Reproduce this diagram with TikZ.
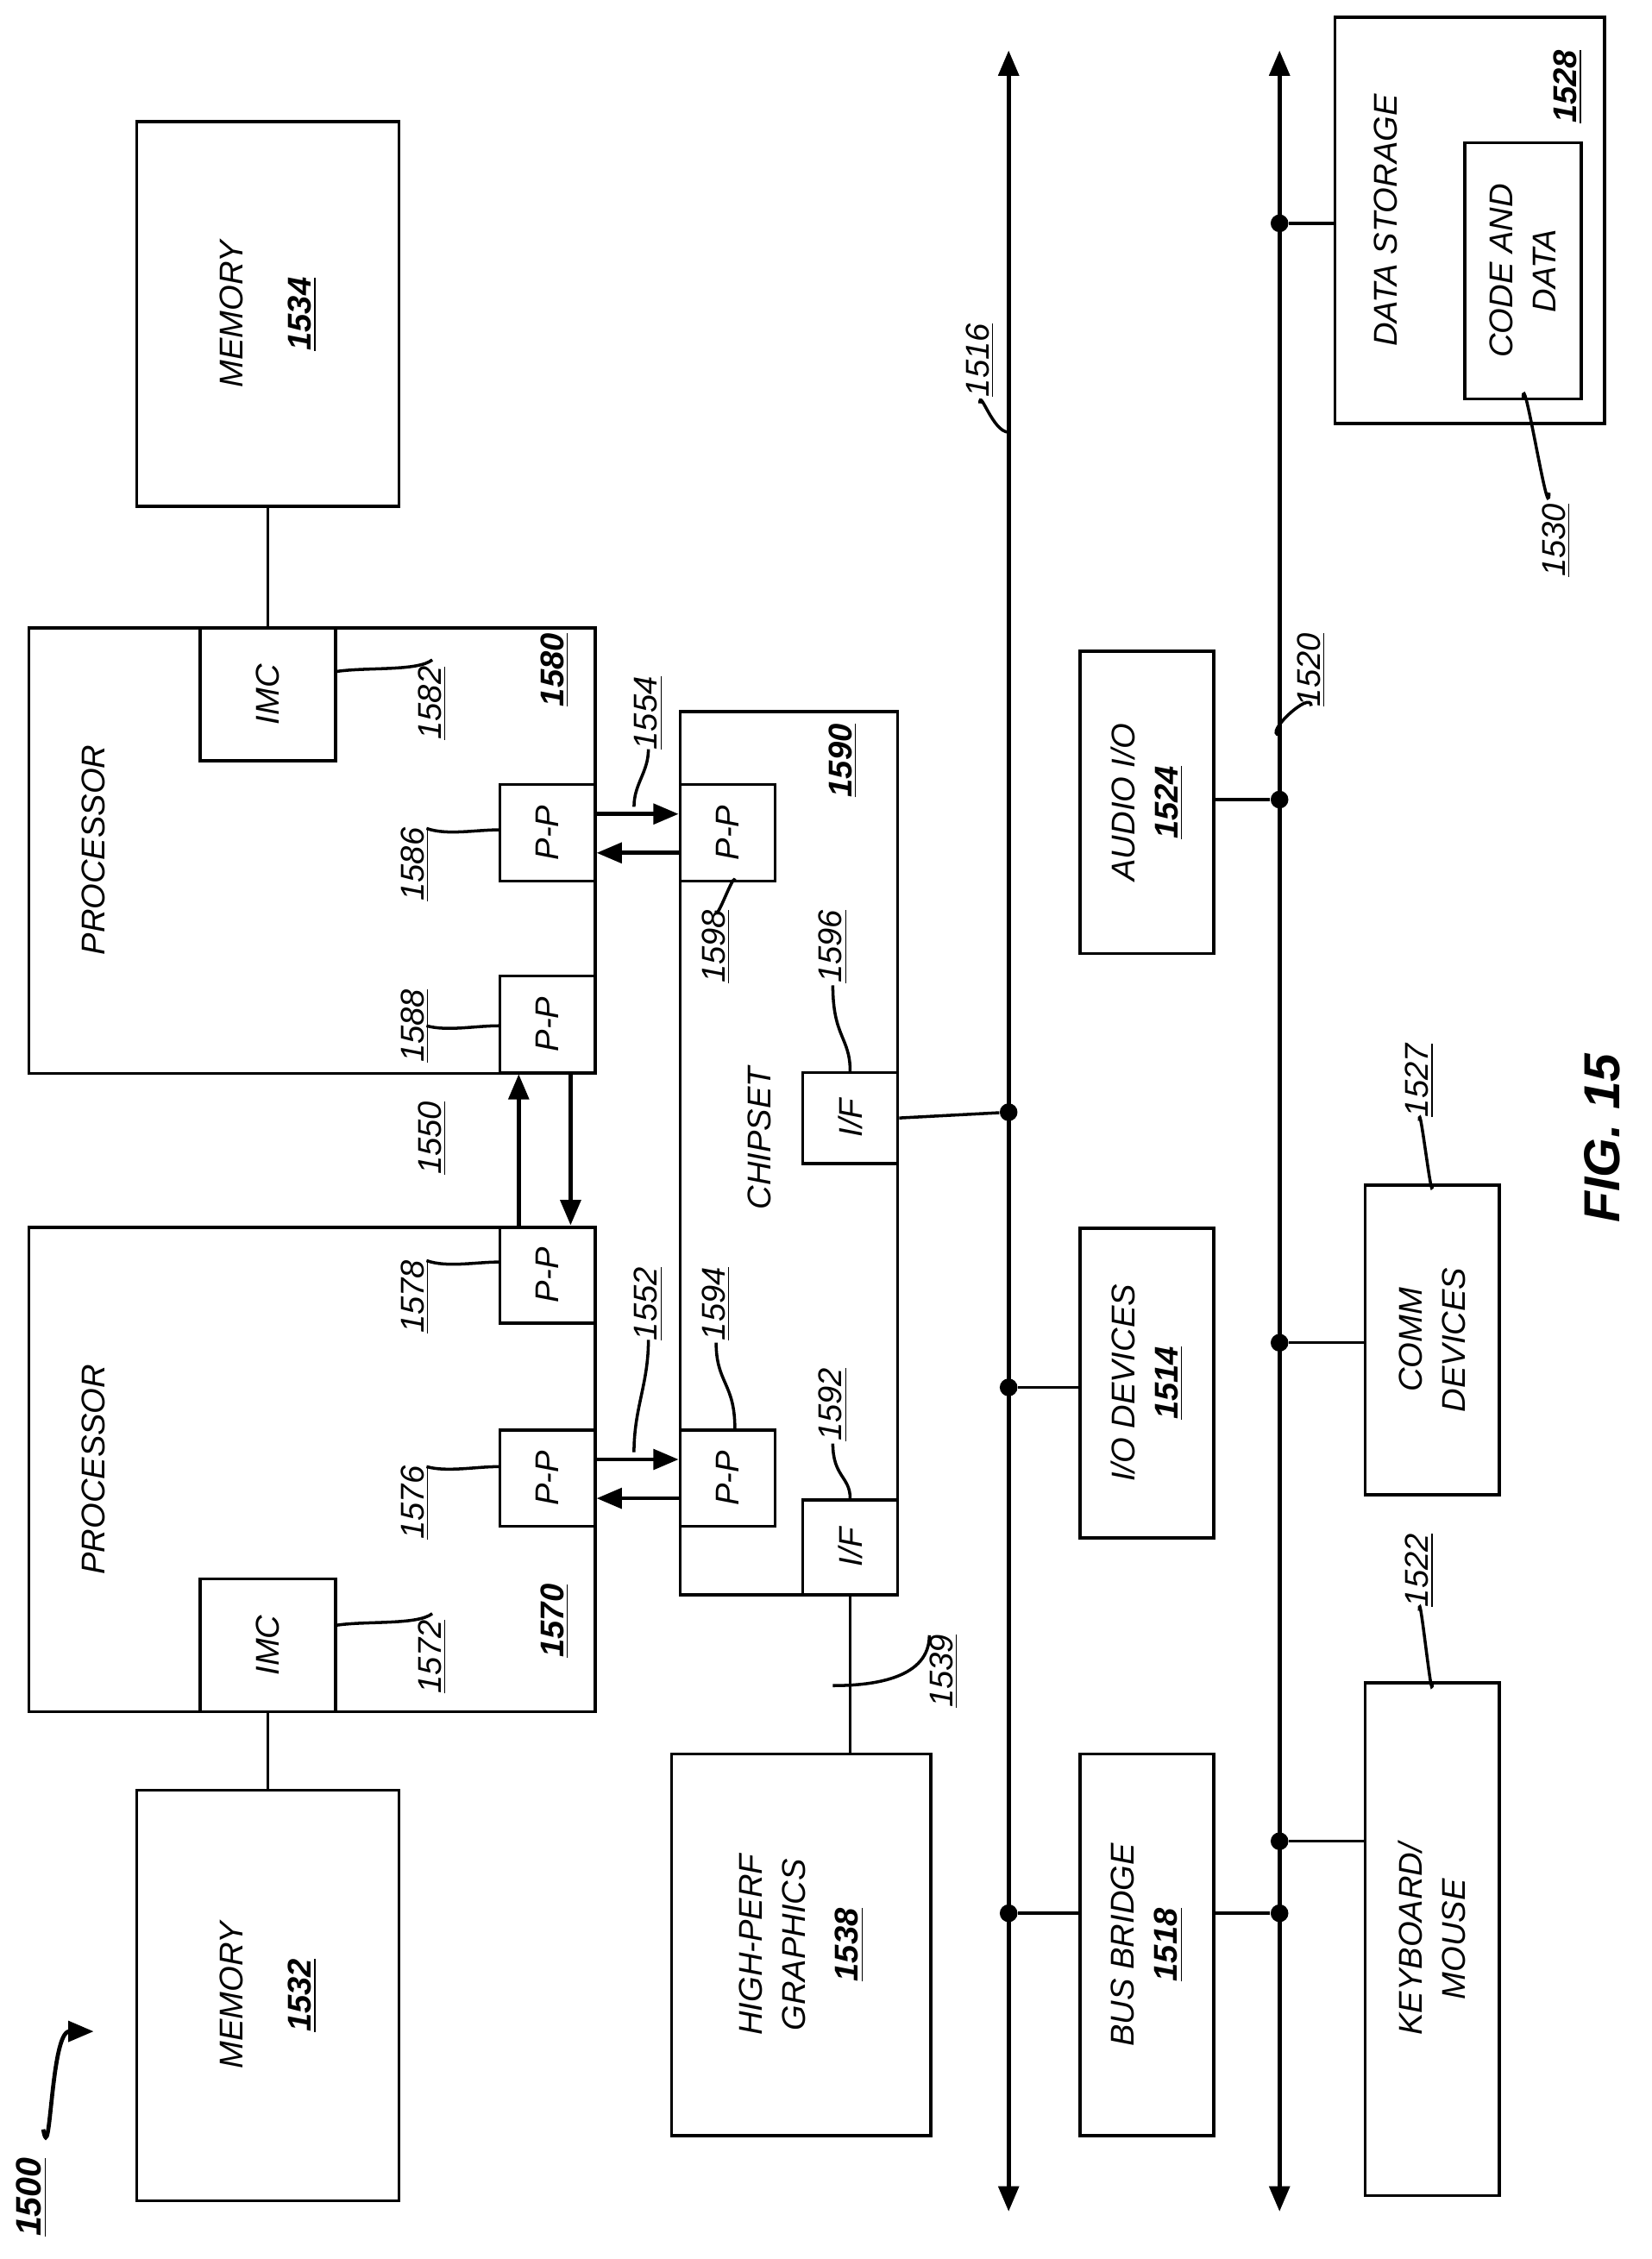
\documentclass[tikz,border=0pt]{standalone}
\usepackage{fontspec}
\setmainfont{Liberation Sans}
\usetikzlibrary{arrows.meta}
\begin{document}
\begin{tikzpicture}[x=0.02cm,y=-0.02cm,
 box/.style={draw,line width=1.2pt,inner sep=0},
 txt/.style={rotate=90,font=\fontsize{13}{17}\selectfont\itshape,align=center},
 lab/.style={rotate=90,font=\fontsize{13}{15}\selectfont\itshape},
 ln/.style={line width=1.2pt},
 ar/.style={line width=1.6pt,-{Triangle[length=10pt,width=8pt]}},
 dot/.style={circle,fill,inner sep=0,minimum size=7pt}]
\useasboundingbox (0,0) rectangle (1146,1568);
\newcommand{\un}[1]{\underline{#1}}
\newcommand{\bn}[1]{\textbf{\underline{#1}}}
% boxes
\node[box,minimum width=182*0.02cm,minimum height=285*0.02cm] (m1) at (186,1385) {};
\node[txt] at (m1) {MEMORY\\[10pt]\bn{1532}};
\node[box,minimum width=182*0.02cm,minimum height=267*0.02cm] (m2) at (186,218) {};
\node[txt] at (m2) {MEMORY\\[10pt]\bn{1534}};
\draw[box] (20,852) rectangle (413,1188);
\node[txt] at (65,1020) {PROCESSOR};
\draw[box] (20,436) rectangle (413,745);
\node[txt] at (65,590) {PROCESSOR};
\node[box,minimum width=94*0.02cm,minimum height=92*0.02cm] (imc1) at (186,1142) {};
\node[txt] at (imc1) {IMC};
\node[box,minimum width=94*0.02cm,minimum height=92*0.02cm] (imc2) at (186,482) {};
\node[txt] at (imc2) {IMC};
\foreach \n/\x/\y in {pp76/380/1026,pp78/380/885,pp86/380/578,pp88/380/711,pp98/505/578,pp94/505/1026}{
 \node[box,minimum width=66*0.02cm,minimum height=67*0.02cm] (\n) at (\x,\y) {};
 \node[txt] at (\n) {P-P};}
\draw[box] (472,494) rectangle (623,1107);
\node[txt] at (527,790) {CHIPSET};
\node[box,minimum width=66*0.02cm,minimum height=63*0.02cm] (if96) at (590,776) {};
\node[txt] at (if96) {I/F};
\node[box,minimum width=66*0.02cm,minimum height=66*0.02cm] (if92) at (590,1074) {};
\node[txt] at (if92) {I/F};
\node[box,minimum width=180*0.02cm,minimum height=265*0.02cm] (gr) at (556,1350) {};
\node[txt] at (gr) {HIGH-PERF\\GRAPHICS\\[4pt]\bn{1538}};
\node[box,minimum width=93*0.02cm,minimum height=265*0.02cm] (bb) at (796,1350) {};
\node[txt] at (bb) {BUS BRIDGE\\\bn{1518}};
\node[box,minimum width=93*0.02cm,minimum height=215*0.02cm] (io) at (796,960) {};
\node[txt] at (io) {I/O DEVICES\\\bn{1514}};
\node[box,minimum width=93*0.02cm,minimum height=210*0.02cm] (au) at (796,557) {};
\node[txt] at (au) {AUDIO I/O\\\bn{1524}};
\node[box,minimum width=93*0.02cm,minimum height=356*0.02cm] (kb) at (994,1346) {};
\node[txt] at (kb) {KEYBOARD/\\MOUSE};
\node[box,minimum width=93*0.02cm,minimum height=215*0.02cm] (cm) at (994,930) {};
\node[txt] at (cm) {COMM\\DEVICES};
\node[box,minimum width=187*0.02cm,minimum height=282*0.02cm] (ds) at (1020,153) {};
\node[txt] at (962,153) {DATA STORAGE};
\node[box,minimum width=81*0.02cm,minimum height=178*0.02cm] (cd) at (1057,188) {};
\node[txt] at (cd) {CODE AND\\DATA};
% buses
\coordinate (b1t) at (700,35); \coordinate (b1b) at (700,1535);
\coordinate (b2t) at (888,35); \coordinate (b2b) at (888,1535);
\draw[line width=1.6pt,{Triangle[length=10pt,width=8pt]}-{Triangle[length=10pt,width=8pt]}] (b1t)--(b1b);
\draw[line width=1.6pt,{Triangle[length=10pt,width=8pt]}-{Triangle[length=10pt,width=8pt]}] (b2t)--(b2b);
% connections
\draw[ln] (m1.north)--(186,1188);
\draw[ln] (m2.south)--(186,436);
\draw[ln] (if92.south)--(gr.north -| if92.south);
\node[dot] (d1) at (700,772) {}; \draw[ln] (if96.east)--(d1);
\node[dot] (d2) at (700,963) {}; \draw[ln] (d2)--(io.west |- d2);
\node[dot] (d3) at (700,1328) {}; \draw[ln] (d3)--(bb.west |- d3);
\node[dot] (d4) at (888,1328) {}; \draw[ln] (bb.east |- d4)--(d4);
\node[dot] (d5) at (888,555) {}; \draw[ln] (au.east |- d5)--(d5);
\node[dot] (d6) at (888,1278) {}; \draw[ln] (d6)--(kb.west |- d6);
\node[dot] (d7) at (888,932) {}; \draw[ln] (d7)--(cm.west |- d7);
\node[dot] (d8) at (888,155) {}; \draw[ln] (d8)--(ds.west |- d8);
% P-P arrows
\draw[ar] (pp86.east |- 0,565)--(pp98.west |- 0,565);
\draw[ar] (pp98.west |- 0,592)--(pp86.east |- 0,592);
\draw[ar] (pp76.east |- 0,1013)--(pp94.west |- 0,1013);
\draw[ar] (pp94.west |- 0,1040)--(pp76.east |- 0,1040);
\draw[ar] (pp78.north -| 360,0)--(pp88.south -| 360,0);
\draw[ar] (pp88.south -| 396,0)--(pp78.north -| 396,0);
% labels
\node[lab] at (385,1125) {\bn{1570}};
\node[lab] at (385,465) {\bn{1580}};
\node[lab] at (585,528) {\bn{1590}};
\node[lab] at (1088,60) {\bn{1528}};
\node[lab] at (300,1150) {\un{1572}}; \draw[ln] (300,1120) .. controls (290,1128) and (255,1125) .. (imc1.east |- 0,1128);
\node[lab] at (300,488) {\un{1582}}; \draw[ln] (300,458) .. controls (290,466) and (255,463) .. (imc2.east |- 0,466);
\node[lab] at (288,1043) {\un{1576}}; \draw[ln] (296,1018) .. controls (310,1022) and (330,1018) .. (pp76.west |- 0,1018);
\node[lab] at (288,900) {\un{1578}}; \draw[ln] (296,875) .. controls (310,880) and (330,876) .. (pp78.west |- 0,876);
\node[lab] at (288,600) {\un{1586}}; \draw[ln] (296,575) .. controls (310,580) and (330,576) .. (pp86.west |- 0,576);
\node[lab] at (288,712) {\un{1588}}; \draw[ln] (296,712) .. controls (310,716) and (330,712) .. (pp88.west |- 0,712);
\node[lab] at (300,790) {\un{1550}};
\node[lab] at (450,905) {\un{1552}}; \draw[ln] (450,930) to[out=-90,in=90] (440,1008);
\node[lab] at (450,495) {\un{1554}}; \draw[ln] (450,520) to[out=-90,in=90] (440,560);
\node[lab] at (497,657) {\un{1598}}; \draw[ln] (497,632) to[out=-90,in=90] (510,612);
\node[lab] at (497,905) {\un{1594}}; \draw[ln] (497,932) .. controls (497,960) and (510,960) .. (pp94.north -| 510,0);
\node[lab] at (578,657) {\un{1596}}; \draw[ln] (578,684) .. controls (578,720) and (590,720) .. (if96.north);
\node[lab] at (578,975) {\un{1592}}; \draw[ln] (578,1002) .. controls (578,1025) and (590,1025) .. (if92.north);
\node[lab] at (655,1160) {\un{1539}}; \draw[ln] (645,1135) to[out=-90,in=0] (578,1170);
\node[lab] at (680,250) {\un{1516}}; \draw[ln] (680,280) to[out=90,in=180] (700,300);
\node[lab] at (910,465) {\un{1520}}; \draw[ln] (910,490) to[out=90,in=180] (888,510);
\node[lab] at (985,1090) {\un{1522}}; \draw[ln] (985,1118) to[out=90,in=-90] (994,1168);
\node[lab] at (985,750) {\un{1527}}; \draw[ln] (985,778) to[out=90,in=-90] (994,822);
\node[lab] at (1080,375) {\un{1530}}; \draw[ln] (1075,342) to[out=-90,in=90] (1057,277);
\node[rotate=90,font=\fontsize{20}{24}\selectfont\bfseries\itshape] at (1112,790) {FIG. 15};
\node[rotate=90,font=\fontsize{14}{16}\selectfont\bfseries\itshape] (n1500) at (22,1525) {\un{1500}};
\coordinate (a1500) at (65,1410);
\draw[line width=1.6pt,-{Triangle[length=10pt,width=8pt]}] (30,1478) to[out=-80,in=180] (a1500);
\end{tikzpicture}
\end{document}
